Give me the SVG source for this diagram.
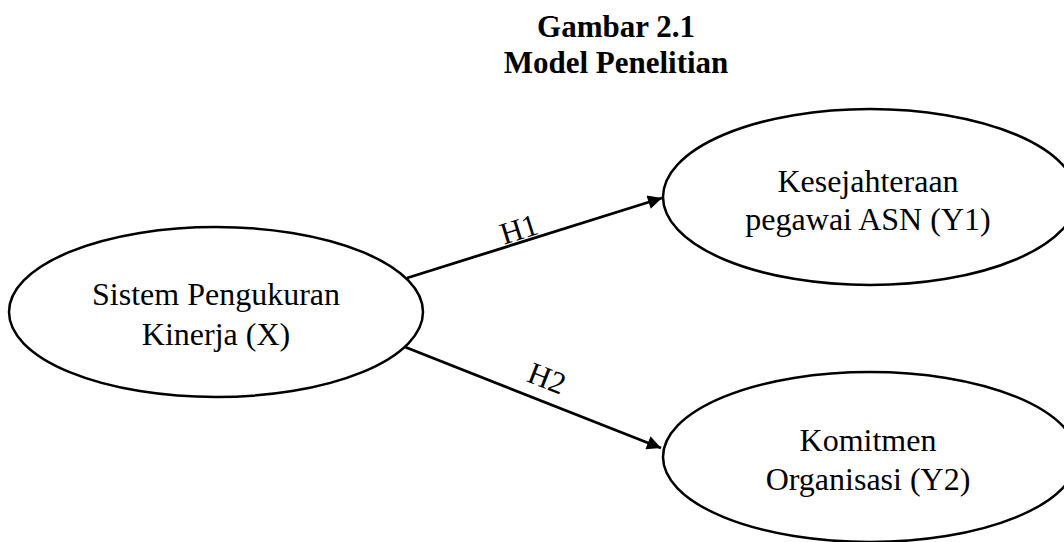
<svg xmlns="http://www.w3.org/2000/svg" width="1064" height="542" viewBox="0 0 1064 542">
<style>
.node ellipse{fill:#fff;stroke:#000;stroke-width:2.5}
.t{font-family:"Liberation Serif","Times New Roman",serif;font-size:32px;fill:#000;text-anchor:middle}
.title{font-family:"Liberation Serif","Times New Roman",serif;font-size:31px;font-weight:bold;fill:#000;text-anchor:middle}
.edge{stroke:#000;stroke-width:2.8;fill:none}
.lbl{font-family:"Liberation Serif","Times New Roman",serif;font-size:31px;fill:#000;text-anchor:middle}
</style>
<defs>
<marker id="arr" viewBox="0 0 10 10" refX="10" refY="5" markerWidth="6" markerHeight="5" markerUnits="strokeWidth" orient="auto">
<path d="M0,0 L10,5 L0,10 z" fill="#000"/>
</marker>
</defs>
<rect width="1064" height="542" fill="#fff"/>
<g id="title">
<text class="title" x="616" y="37">Gambar 2.1</text>
<text class="title" x="616" y="73">Model Penelitian</text>
</g>
<g id="connectors">
<line class="edge" x1="407" y1="278" x2="662" y2="198" marker-end="url(#arr)"/>
<line class="edge" x1="405" y1="347" x2="661" y2="448" marker-end="url(#arr)"/>
<text class="lbl" transform="translate(522,239) rotate(-17.4)">H1</text>
<text class="lbl" transform="translate(543,388) rotate(21.5)">H2</text>
</g>
<g id="nodeX" class="node">
<ellipse cx="216" cy="312" rx="207" ry="85"/>
<text class="t" x="216" y="305">Sistem Pengukuran</text>
<text class="t" x="216" y="345">Kinerja (X)</text>
</g>
<g id="nodeY1" class="node">
<ellipse cx="870" cy="197" rx="207" ry="88"/>
<text class="t" x="868" y="192">Kesejahteraan</text>
<text class="t" x="868" y="230">pegawai ASN (Y1)</text>
</g>
<g id="nodeY2" class="node">
<ellipse cx="870" cy="457" rx="207" ry="85"/>
<text class="t" x="868" y="451">Komitmen</text>
<text class="t" x="868" y="490">Organisasi (Y2)</text>
</g>
</svg>
